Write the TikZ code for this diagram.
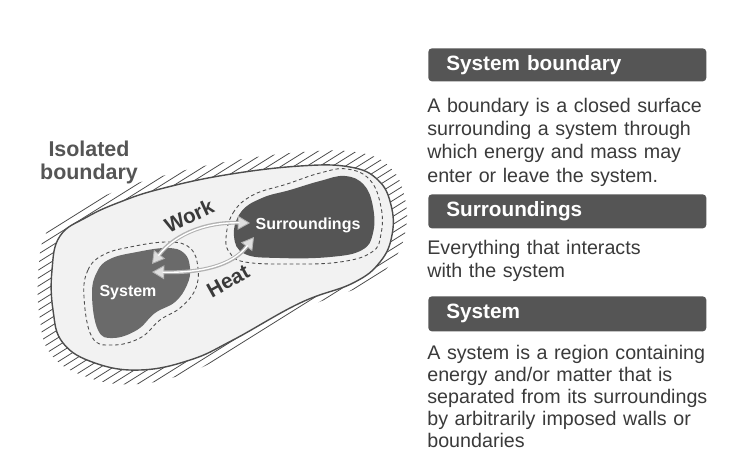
\documentclass[tikz,border=0pt]{standalone}
\usepackage{fontspec}
\setmainfont{Liberation Sans}
\usetikzlibrary{arrows.meta, positioning}
\definecolor{cdark}{HTML}{555555}
\definecolor{csys}{HTML}{6A6A6A}
\definecolor{cfill}{HTML}{F2F2F2}
\definecolor{ctext}{HTML}{3A3A3A}
\definecolor{cline}{HTML}{4D4D4D}

\begin{document}
\begin{tikzpicture}[
  x=0.02cm, y=-0.02cm,
  headbar/.style={fill=cdark, rounded corners=2pt, anchor=north west,
                  text=white, font=\fontsize{11.8}{14}\selectfont\bfseries,
                  minimum width=5.56cm, minimum height=0.66cm,
                  text width=4.84cm, inner xsep=0.36cm, inner ysep=0pt, align=left},
  bodytxt/.style={anchor=north west, inner sep=0pt, text=ctext,
                  text width=6cm, align=left,
                  font=\fontsize{11.2}{13.2}\selectfont},
  blobln/.style={draw=cline, line width=0.8pt},
  dashln/.style={draw=cline, line width=0.5pt, dash pattern=on 2pt off 1.6pt},
  hatchln/.style={draw=cline, line width=0.45pt},
  inlbl/.style={text=white, font=\fontsize{9.1}{11}\selectfont\bfseries},
  flowlbl/.style={text=ctext, inner sep=0pt, font=\fontsize{11.8}{14}\selectfont\bfseries},
  flow/.style={draw=gray!60, line width=2.2pt,
    {Triangle[length=7pt,width=8pt,fill=gray!25,line width=0.5pt]}-{Triangle[length=7pt,width=8pt,fill=gray!25,line width=0.5pt]},
    postaction={draw=white, line width=0.8pt, -, shorten <=6pt, shorten >=6pt}},
]
\useasboundingbox (0,0) rectangle (750,471);

% hatching outside the isolated boundary
\begin{scope}
  \clip[shift={(222,268)}, xscale=1.08, yscale=1.14, shift={(-222,-268)}]
    plot[smooth cycle, tension=0.7] coordinates {(52,270) (60,236) (87,217) (120,202) (160,189) (225,175) (300,166) (350,167) (378,180) (391,205) (392,235) (380,262) (353,283) (300,303) (233,340) (190,360) (140,370) (95,363) (63,343) (53,310)};
  \foreach \c in {150,158,...,690}
    \draw[hatchln] (0,\c) -- (460,\c-287.5);
\end{scope}

% isolated boundary
\draw[blobln, fill=cfill] plot[smooth cycle, tension=0.7] coordinates {(52,270) (60,236) (87,217) (120,202) (160,189) (225,175) (300,166) (350,167) (378,180) (391,205) (392,235) (380,262) (353,283) (300,303) (233,340) (190,360) (140,370) (95,363) (63,343) (53,310)};

% surroundings
\fill[cdark] plot[smooth cycle, tension=0.7] coordinates {(234,236) (241,212) (262,198) (290,190) (320,181) (345,176) (364,185) (373,207) (373,233) (362,250) (330,257) (280,258) (245,254)};
\draw[dashln] plot[smooth cycle, tension=0.7] coordinates {(226,238) (233,213) (253,195) (287,184) (320,173) (347,169) (370,180) (381,207) (381,234) (372,252) (340,262) (290,264) (245,262) (230,253)};

% system
\fill[csys] plot[smooth cycle, tension=0.7] coordinates {(92,295) (97,272) (110,259) (137,252) (167,248) (184,253) (190,268) (187,285) (175,302) (155,313) (137,330) (113,338) (98,330)};
\draw[dashln] plot[smooth cycle, tension=0.7] coordinates {(84,297) (88,270) (103,255) (130,247) (168,242) (190,248) (198,268) (195,290) (180,308) (160,320) (140,338) (112,345) (92,337)};

\node[inlbl] (surlbl) at (308,225) {Surroundings};
\node[inlbl] (syslbl) at (128,293) {System};
\node[align=center, inner sep=0pt, anchor=north, text=cdark,
      font=\fontsize{12.2}{13}\selectfont\bfseries] (isolbl) at (89,141) {Isolated\\boundary};

% work and heat
\coordinate (wkA) at (152,264);
\coordinate (wkB) at (250,223);
\coordinate (htA) at (152,272);
\coordinate (htB) at (254,237);
\draw[flow] (wkA) .. controls (172,238) and (200,222) .. (wkB);
\draw[flow] (htA) .. controls (200,273) and (232,266) .. (htB);
\node[flowlbl, rotate=25] (worklbl) at (189,216) {Work};
\node[flowlbl, rotate=29] (heatlbl) at (228,281) {Heat};

% legend column
\node[headbar] (hdbound) at (428,48) {System boundary};
\node[bodytxt] (txbound) at (427,98) {A boundary is a closed surface\\surrounding a system through\\which energy and mass may\\enter or leave the system.};
\node[headbar, minimum height=0.68cm] (hdsurr) at (428,194) {Surroundings};
\node[bodytxt] (txsurr) at (427,240) {Everything that interacts\\with the system};
\node[headbar, minimum height=0.7cm] (hdsys) at (428,296) {System};
\node[bodytxt, font=\fontsize{11.2}{12.5}\selectfont] (txsys) at (427,345) {A system is a region containing\\energy and/or matter that is\\separated from its surroundings\\by arbitrarily imposed walls or\\boundaries};
\end{tikzpicture}
\end{document}
